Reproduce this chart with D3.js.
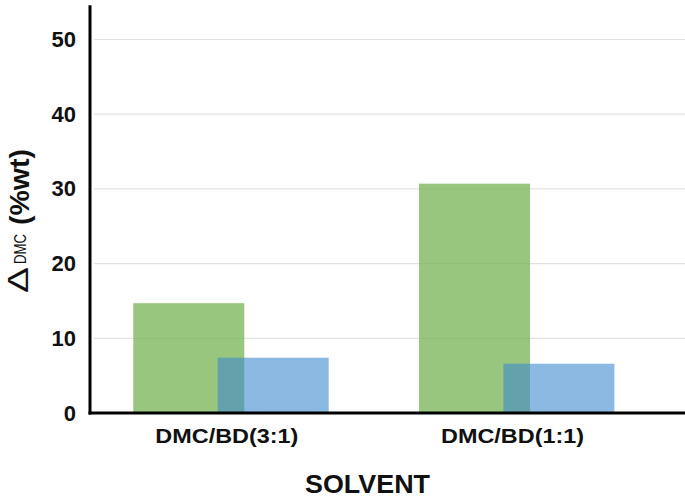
<!DOCTYPE html>
<html>
<head>
<meta charset="utf-8">
<script src="https://cdn.jsdelivr.net/npm/d3@7"></script>
<style>
  body { margin: 0; background: #fff; }
  text { font-family: 'Liberation Sans', Arial, sans-serif; fill: #111; }
</style>
</head>
<body>
<div id="chart"></div>
<script>
// data
const categories = ['DMC/BD(3:1)', 'DMC/BD(1:1)']
const seriesNames = ['first', 'second']
const greenValues = [14.7, 30.7]
const blueValues = [7.4, 6.6]
const yTicks = [0, 10, 20, 30, 40, 50]

const width = 685
const height = 499
const x0 = 90
const baseY = 413

const svg = d3.select('#chart')
  .append('svg')
  .attr('width', width)
  .attr('height', height)

const y = d3.scaleLinear()
  .domain([0, 50])
  .range([baseY, 39.5])

const x = d3.scaleBand()
  .domain(categories)
  .range([x0, x0 + 285.7 * 2])
  .paddingInner(0)
  .paddingOuter(0)

// the two series overlap inside each category
const sub = d3.scaleBand()
  .domain(seriesNames)
  .range([43.3, 43.3 + 84.4 * 2])
const barW = sub.step() * 1.315

// grid
const grid = svg.append('g')
grid.selectAll('line')
  .data(yTicks.filter(d => d > 0))
  .enter()
  .append('line')
  .attr('x1', x0 + 4)
  .attr('x2', width)
  .attr('y1', d => y(d))
  .attr('y2', d => y(d))
  .attr('stroke', '#e2e2e2')
  .attr('stroke-width', 1.2)

const rows = categories.map((c, i) => ({ cat: c, first: greenValues[i], second: blueValues[i] }))

const colors = { first: 'rgb(120,180,85)', second: 'rgb(63,138,205)' }
const opac = { first: 0.76, second: 0.6 }

seriesNames.forEach(s => {
  svg.append('g')
    .selectAll('rect')
    .data(rows)
    .enter()
    .append('rect')
    .attr('x', d => x(d.cat) + sub(s))
    .attr('y', d => y(d[s]))
    .attr('width', barW)
    .attr('height', d => baseY - y(d[s]))
    .attr('fill', colors[s])
    .attr('fill-opacity', opac[s])
})

// y axis
const yAxis = d3.axisLeft(y)
  .tickValues(yTicks)
  .tickSize(0)
  .tickPadding(14)
const yAxisG = svg.append('g')
  .attr('transform', `translate(${x0},0)`)
  .call(yAxis)
yAxisG.select('.domain').remove()
yAxisG.selectAll('text')
  .style('font-size', '22px')
  .style('font-weight', 'bold')
  .style('font-family', "'Liberation Sans', Arial, sans-serif")
  .attr('fill', '#111')

svg.append('line')
  .attr('x1', x0)
  .attr('x2', x0)
  .attr('y1', y(54.6))
  .attr('y2', baseY + 1.5)
  .attr('stroke', '#000')
  .attr('stroke-width', 3)

// x axis
const xAxis = d3.axisBottom(x).tickSize(0).tickPadding(16)
const xAxisG = svg.append('g')
  .attr('transform', `translate(0,${baseY})`)
  .call(xAxis)
xAxisG.select('.domain').remove()
xAxisG.selectAll('text')
  .attr('x', -6)
  .attr('textLength', 143)
  .attr('lengthAdjust', 'spacingAndGlyphs')
  .style('font-size', '20px')
  .style('font-weight', 'bold')
  .style('font-family', "'Liberation Sans', Arial, sans-serif")
  .attr('fill', '#111')

svg.append('line')
  .attr('x1', x0 - 1.5)
  .attr('x2', width)
  .attr('y1', baseY)
  .attr('y2', baseY)
  .attr('stroke', '#000')
  .attr('stroke-width', 3)

// axis titles
svg.append('text')
  .attr('x', 367.5)
  .attr('y', 493)
  .attr('text-anchor', 'middle')
  .attr('textLength', 125)
  .attr('lengthAdjust', 'spacingAndGlyphs')
  .style('font-size', '25px')
  .style('font-weight', 'bold')
  .text('SOLVENT')

svg.append('text')
  .attr('transform', 'translate(28,293) rotate(-90)')
  .attr('textLength', 26)
  .attr('lengthAdjust', 'spacingAndGlyphs')
  .style('font-size', '29px')
  .text('Δ')
svg.append('text')
  .attr('transform', 'translate(26,264) rotate(-90)')
  .attr('textLength', 30)
  .attr('lengthAdjust', 'spacingAndGlyphs')
  .style('font-size', '17px')
  .text('DMC')
svg.append('text')
  .attr('transform', 'translate(29,225) rotate(-90)')
  .attr('textLength', 76)
  .attr('lengthAdjust', 'spacingAndGlyphs')
  .style('font-size', '27px')
  .style('font-weight', 'bold')
  .text('(%wt)')
</script>
</body>
</html>
